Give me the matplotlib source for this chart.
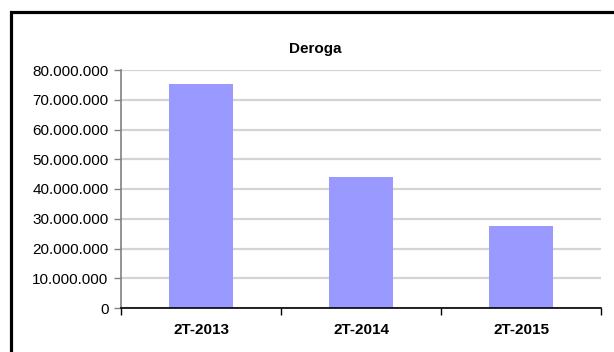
import matplotlib
matplotlib.use("Agg")
import matplotlib.pyplot as plt
from matplotlib.patches import Rectangle
from matplotlib.ticker import FuncFormatter, FixedLocator

# Data
categories = ["2T-2013", "2T-2014", "2T-2015"]
values = [75300000, 44100000, 27500000]
y_ticks = [0, 10000000, 20000000, 30000000, 40000000, 50000000, 60000000, 70000000, 80000000]
title = "Deroga"

plt.rcParams["font.family"] = ["Liberation Sans", "DejaVu Sans"]

W, H = 614, 352
fig = plt.figure(figsize=(W / 100, H / 100), dpi=100)
fig.patch.set_facecolor("white")

ax = fig.add_axes([121 / W, 1 - 308 / H, 480 / W, 238 / H])

x = list(range(len(categories)))
ax.bar(x, values, width=0.4, color="#9999FF", zorder=3)

ax.set_xlim(-0.5, len(categories) - 0.5)
ax.set_ylim(0, y_ticks[-1])
ax.set_yticks(y_ticks)
ax.yaxis.set_major_formatter(FuncFormatter(lambda v, p: f"{int(v):,}".replace(",", ".")))
ax.grid(axis="y", color="#d4d4d4", linewidth=1.6, zorder=0)
ax.set_axisbelow(True)

ax.set_xticks(x)
ax.set_xticklabels(categories, fontsize=11, fontweight="bold")
ax.xaxis.set_minor_locator(FixedLocator([i - 0.5 for i in range(len(categories) + 1)]))
ax.tick_params(axis="x", which="major", length=0, pad=11)
ax.tick_params(axis="x", which="minor", length=5, width=1, color="black", direction="out")
ax.tick_params(axis="y", length=5, width=1, color="#808080", pad=4, labelsize=11)

for s in ("top", "right"):
    ax.spines[s].set_visible(False)
ax.spines["left"].set_color("#808080")
ax.spines["left"].set_linewidth(1.2)
ax.spines["bottom"].set_color("black")
ax.spines["bottom"].set_linewidth(1.2)
ax.spines["bottom"].set_zorder(4)

fig.text(315 / W, 1 - 53 / H, title, ha="center", va="baseline", fontsize=11, fontweight="bold")

# Chart frame
fig.add_artist(Rectangle((10.5 / W, -0.5), 2.0, 1.5 - 11.5 / H, transform=fig.transFigure,
                         fill=False, edgecolor="black", linewidth=2.3))

fig.savefig("out.png", dpi=100)
